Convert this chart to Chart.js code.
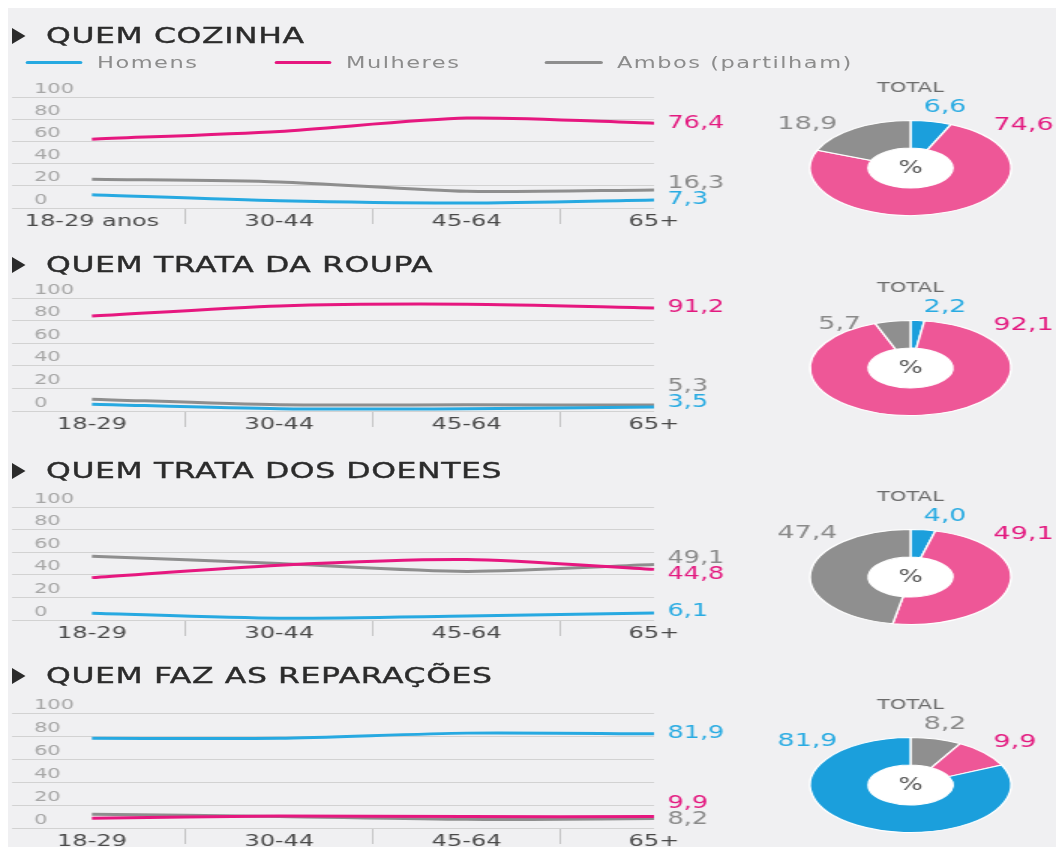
<!DOCTYPE html>
<html lang="pt">
<head>
<meta charset="utf-8">
<title>Quem faz o quê em casa</title>
<script src="https://cdn.jsdelivr.net/npm/chart.js@4.4.1/dist/chart.umd.min.js"></script>
<style>
  html, body { margin: 0; padding: 0; background: #fff; }
  body { width: 1056px; height: 847px; overflow: hidden; position: relative; font-family: "DejaVu Sans", sans-serif; }
  #fundo { position: absolute; left: 8px; top: 8px; right: 0; bottom: 0; background: #f0f0f2; }
  /* the original infographic is stretched sideways, so is this sheet */
  #folha { position: absolute; left: 0; top: 0; width: 704px; height: 847px; transform: scaleX(1.5); transform-origin: 0 0; }
  #folha canvas { position: absolute; }
  .titulo { position: absolute; left: 8px; height: 20px; line-height: 20px; padding-left: 22.7px;
            font-size: 21px; color: #2b2b2b; letter-spacing: 0.4px; white-space: nowrap;
            -webkit-text-stroke: 0.35px #2b2b2b; }
  .titulo::before { content: ""; position: absolute; left: 0; top: 2px;
            border-left: 9px solid #2b2b2b; border-top: 8px solid transparent; border-bottom: 8px solid transparent; }
  .leg { position: absolute; top: 54.5px; height: 16px; line-height: 16px; font-size: 15px; letter-spacing: 1px;
         color: #8c8c8c; white-space: nowrap; }
  .leg i { display: inline-block; width: 38.6px; height: 3px; margin-right: 9.4px; vertical-align: 4px; border-radius: 1.5px; }
</style>
</head>
<body>
<div id="fundo"></div>
<div id="folha"></div>
<script>
// age groups on the x axis
const idades1 = ['18-29 anos', '30-44', '45-64', '65+'];
const idades = ['18-29', '30-44', '45-64', '65+'];
const series = ['Homens', 'Mulheres', 'Ambos (partilham)'];

// % by age group
const cozinhaHomens = [12, 6.5, 4.5, 7.3];
const cozinhaMulheres = [62, 69, 81, 76.4];
const cozinhaAmbos = [26, 23.5, 15, 16.3];
const cozinhaTotal = [6.6, 74.6, 18.9];

const roupaHomens = [6, 2, 2, 3.5];
const roupaMulheres = [84, 93, 94.5, 91.2];
const roupaAmbos = [10.5, 5.5, 5.5, 5.3];
const roupaTotal = [2.2, 92.1, 5.7];

const doentesHomens = [6, 1.5, 3.5, 6.1];
const doentesMulheres = [37.5, 48.5, 53.5, 44.8];
const doentesAmbos = [56.5, 50, 43, 49.1];
const doentesTotal = [4.0, 49.1, 47.4];

const reparacoesHomens = [78, 78, 82.5, 81.9];
const reparacoesMulheres = [8.5, 10.5, 9.9, 9.9];
const reparacoesAmbos = [12, 10, 7.5, 8.2];
const reparacoesTotal = [81.9, 9.9, 8.2];

const cores = ['#27a9e1', '#e6177f', '#8e8e8e'];
const coresFatia = ['#1b9fdc', '#ee5797', '#8f8f8f'];
const coresTexto = ['#29abe2', '#e3197f', '#8a8a8a'];
const ordemDesenho = [1, 0, 2];   // pink on top, grey underneath
const ESTICAR = 1.41;             // donuts are drawn as ellipses

const paineis = [
  { titulo: 'QUEM COZINHA', eixo: idades1, linhas: [cozinhaHomens, cozinhaMulheres, cozinhaAmbos],
    total: cozinhaTotal, ordem: [0, 1, 2], tituloY: 35.5, topo: 97, altura: 111, cy: 167.5 },
  { titulo: 'QUEM TRATA DA ROUPA', eixo: idades, linhas: [roupaHomens, roupaMulheres, roupaAmbos],
    total: roupaTotal, ordem: [0, 1, 2], tituloY: 264.5, topo: 298, altura: 113, cy: 367.5 },
  { titulo: 'QUEM TRATA DOS DOENTES', eixo: idades, linhas: [doentesHomens, doentesMulheres, doentesAmbos],
    total: doentesTotal, ordem: [0, 1, 2], tituloY: 470.5, topo: 507, altura: 113, cy: 577 },
  { titulo: 'QUEM FAZ AS REPARAÇÕES', eixo: idades, linhas: [reparacoesHomens, reparacoesMulheres, reparacoesAmbos],
    total: reparacoesTotal, ordem: [2, 1, 0], tituloY: 675.5, topo: 713, altura: 115, cy: 785 }
];

const virgula = v => v.toFixed(1).replace('.', ',');
const folha = document.getElementById('folha');

function novoCanvas(left, top, w, h) {
  const c = document.createElement('canvas');
  c.width = w; c.height = h;
  c.style.left = left + 'px'; c.style.top = top + 'px';
  folha.appendChild(c);
  return c;
}

// value labels at the right end of each line, pushed apart when they collide
const rotulosFinais = {
  id: 'rotulosFinais',
  afterDatasetsDraw(chart) {
    const { ctx, scales: { x, y } } = chart;
    const itens = chart.data.datasets.map((ds, s) => {
      const ult = ds.data[ds.data.length - 1];
      return { texto: virgula(ult.y), cor: coresTexto[s], x: x.getPixelForValue(ult.x) + 9, y: y.getPixelForValue(ult.y) };
    }).sort((a, b) => a.y - b.y);
    const limite = y.getPixelForValue(0) - 8, folga = 16;
    for (let it = 0; it < 60; it++) {
      for (let i = 1; i < itens.length; i++) {
        const d = itens[i].y - itens[i - 1].y;
        if (d < folga) { const m = (folga - d) / 2; itens[i].y += m; itens[i - 1].y -= m; }
      }
      itens.forEach(o => { o.y = Math.min(o.y, limite); });
    }
    ctx.save();
    ctx.font = '17px "DejaVu Sans"';
    ctx.textBaseline = 'middle';
    ctx.textAlign = 'left';
    itens.forEach(o => { ctx.fillStyle = o.cor; ctx.fillText(o.texto, o.x, o.y); });
    ctx.restore();
  }
};

// squash the doughnut into an ellipse, white hole, TOTAL / % and values
const elipse = {
  id: 'elipse',
  beforeDatasetsDraw(chart) {
    const { ctx } = chart;
    const arc = chart.getDatasetMeta(0).data[0];
    ctx.save();
    ctx.translate(arc.x, 0); ctx.scale(ESTICAR, 1); ctx.translate(-arc.x, 0);
    ctx.beginPath();
    ctx.arc(arc.x, arc.y, arc.innerRadius, 0, Math.PI * 2);
    ctx.fillStyle = '#ffffff';
    ctx.fill();
  },
  afterDatasetsDraw(chart) {
    const { ctx } = chart;
    ctx.restore();
    const meta = chart.getDatasetMeta(0);
    const cx = meta.data[0].x, cy = meta.data[0].y, R = meta.data[0].outerRadius;
    const ds = chart.data.datasets[0];
    ctx.save();
    ctx.textBaseline = 'middle';
    ctx.textAlign = 'center';
    ctx.fillStyle = '#6b6b6b';
    ctx.font = '14px "DejaVu Sans"';
    ctx.fillText('TOTAL', cx, cy - 80);
    ctx.fillStyle = '#555';
    ctx.font = '17px "DejaVu Sans"';
    ctx.fillText('%', cx, cy + 1);
    ctx.font = '18px "DejaVu Sans"';
    meta.data.forEach((a, i) => {
      ctx.fillStyle = ds.textColors[i];
      const t = virgula(ds.data[i]);
      if (i === 0) {
        ctx.textAlign = 'left'; ctx.fillText(t, cx + 8.7, cy - 61);
      } else if (i === 1) {
        ctx.textAlign = 'left'; ctx.fillText(t, cx + 55.3, cy - 43);
      } else {
        const meio = (a.startAngle + a.endAngle) / 2;
        ctx.textAlign = 'right';
        ctx.fillText(t, Math.max(cx - 48.7, cx + Math.cos(meio) * R * ESTICAR - 21), cy - 44);
      }
    });
    ctx.restore();
  }
};

// legend, first panel only
[16.7, 182.7, 363.3].forEach((left, s) => {
  const d = document.createElement('div');
  d.className = 'leg';
  d.style.left = left + 'px';
  const i = document.createElement('i');
  i.style.background = cores[s];
  d.appendChild(i);
  d.appendChild(document.createTextNode(series[s]));
  folha.appendChild(d);
});

paineis.forEach(p => {
  const t = document.createElement('div');
  t.className = 'titulo';
  t.style.top = (p.tituloY - 10) + 'px';
  t.textContent = p.titulo;
  folha.appendChild(t);

  const linha = novoCanvas(0, p.topo - 26, 505, 26 + p.altura + 28);
  new Chart(linha, {
    type: 'line',
    data: {
      datasets: p.linhas.map((vals, s) => ({
        label: series[s],
        data: vals.map((v, i) => ({ x: i, y: v })),
        borderColor: cores[s],
        borderWidth: 3,
        pointRadius: 0,
        tension: 0.25,
        order: ordemDesenho[s],
        clip: false
      }))
    },
    options: {
      responsive: false,
      animation: false,
      events: [],
      layout: { padding: { top: 26, left: 8, right: 69, bottom: 0 } },
      plugins: { legend: { display: false }, tooltip: { enabled: false } },
      scales: {
        x: {
          type: 'linear', min: -0.427, max: 3,
          afterBuildTicks: s => { s.ticks = p.eixo.map((c, i) => ({ value: i })); },
          afterFit: s => { s.height = 28; },
          grid: { drawOnChartArea: false, offset: true, tickLength: 16, color: '#c4c4c4' },
          border: { display: false },
          ticks: {
            callback: v => p.eixo[v], autoSkip: false, maxRotation: 0, padding: -12.2,
            color: '#4a4a4a', font: { family: 'DejaVu Sans', size: 16 }
          }
        },
        y: {
          min: 0, max: 100,
          afterFit: s => { s.width = 0; },
          grid: { color: '#d2d2d2', drawTicks: false },
          border: { display: false },
          ticks: {
            stepSize: 20, mirror: true, padding: 14.7, labelOffset: -8,
            color: '#a6a6a6', font: { family: 'DejaVu Sans', size: 14 }
          }
        }
      }
    },
    plugins: [rotulosFinais]
  });

  const rosca = novoCanvas(506.7, p.cy - 100, 200, 153);
  new Chart(rosca, {
    type: 'doughnut',
    data: {
      labels: p.ordem.map(k => series[k]),
      datasets: [{
        data: p.ordem.map(k => p.total[k]),
        backgroundColor: p.ordem.map(k => coresFatia[k]),
        textColors: p.ordem.map(k => coresTexto[k]),
        borderColor: '#ffffff',
        borderWidth: 1,
        clip: false
      }]
    },
    options: {
      responsive: false,
      animation: false,
      events: [],
      cutout: '42%',
      layout: { padding: { top: 52, bottom: 5, left: 0, right: 0 } },
      plugins: { legend: { display: false }, tooltip: { enabled: false } }
    },
    plugins: [elipse]
  });
});
</script>
</body>
</html>
